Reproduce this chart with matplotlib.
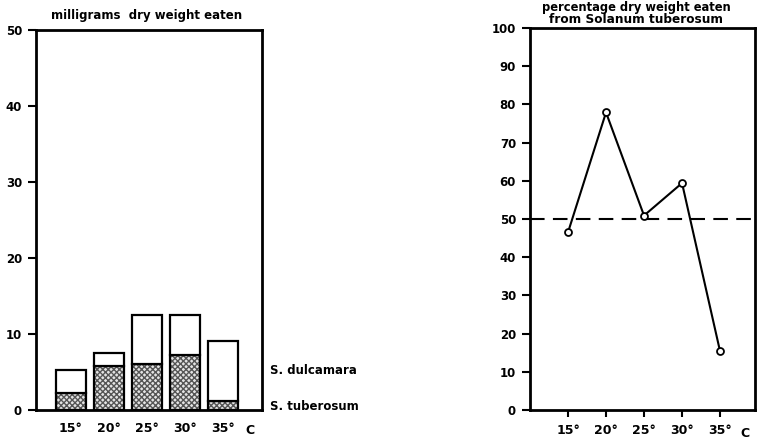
import matplotlib
matplotlib.use("Agg")
import matplotlib.pyplot as plt
import numpy as np

# ---- data ----
temps = [15, 20, 25, 30, 35]
temp_labels = ['15°', '20°', '25°', '30°', '35°']
tuberosum_mg = [2.3, 5.8, 6.1, 7.3, 1.2]
total_mg = [5.3, 7.5, 12.5, 12.5, 9.1]
pct_tuberosum = [46.5, 77.9, 50.9, 59.4, 15.4]
left_yticks = [0, 10, 20, 30, 40, 50]
right_yticks = [0, 10, 20, 30, 40, 50, 60, 70, 80, 90, 100]
ref_line = 50

plt.rcParams['font.family'] = ['DejaVu Sans']
plt.rcParams['font.weight'] = 'bold'

W, H = 757, 442
fig = plt.figure(figsize=(W / 100, H / 100), dpi=100)

def box(l, t, r, b):
    return [l / W, (H - b) / H, (r - l) / W, (b - t) / H]

# ---- left chart ----
ax1 = fig.add_axes(box(36, 30, 262, 410))
x = np.arange(len(temps))
dulc = [t - s for t, s in zip(total_mg, tuberosum_mg)]
ax1.bar(x, tuberosum_mg, width=0.79, color='#e4e4e4', edgecolor='#555555',
        hatch='xxxxxx', linewidth=0, zorder=2)
ax1.bar(x, tuberosum_mg, width=0.79, fill=False, edgecolor='black', linewidth=1.6, zorder=3)
ax1.bar(x, dulc, bottom=tuberosum_mg, width=0.79, color='white', edgecolor='black',
        linewidth=1.6, zorder=3)
ax1.set_xlim(-0.92, 5.03)
ax1.set_ylim(0, 50)
ax1.set_yticks(left_yticks)
ax1.set_xticks(x)
ax1.set_xticklabels(temp_labels, fontsize=9, fontweight='bold')
ax1.tick_params(axis='x', length=0, pad=9)
ax1.tick_params(axis='y', length=6, width=1.5, labelsize=8.5, pad=4)
for s in ax1.spines.values():
    s.set_linewidth(2)
ax1.annotate('C', xy=(x[-1], -0.063), xycoords=('data', 'axes fraction'),
             xytext=(16, 0), textcoords='offset points', ha='left', va='baseline',
             fontsize=9, fontweight='bold')
ax1.text(1.035, (370 - 410) / -380, 'S. dulcamara', transform=ax1.transAxes,
         ha='left', va='center', fontsize=8.5, fontweight='bold')
ax1.text(1.035, (407 - 410) / -380, 'S. tuberosum', transform=ax1.transAxes,
         ha='left', va='center', fontsize=8.5, fontweight='bold')
fig.text(147 / W, 1 - 15 / H, 'milligrams  dry weight eaten', ha='center', va='center',
         fontsize=8.5, fontweight='bold')

# ---- right chart ----
ax2 = fig.add_axes(box(530, 28, 755, 410))
ax2.axhline(ref_line, color='black', linewidth=1.5, dashes=(7, 4), zorder=1)
ax2.plot(temps, pct_tuberosum, color='black', linewidth=1.5, marker='o',
         markersize=5, markerfacecolor='white', markeredgecolor='black',
         markeredgewidth=1.3, zorder=3)
ax2.set_xlim(10, 39.6)
ax2.set_ylim(0, 100)
ax2.set_yticks(right_yticks)
ax2.set_xticks(temps)
ax2.set_xticklabels(temp_labels, fontsize=9, fontweight='bold')
ax2.tick_params(axis='x', length=5, width=1.5, pad=5)
ax2.tick_params(axis='y', length=6, width=1.5, labelsize=8.5, pad=4)
ax2.annotate('C', xy=(temps[-1], -0.0707), xycoords=('data', 'axes fraction'),
             xytext=(15, 0), textcoords='offset points', ha='left', va='baseline',
             fontsize=9, fontweight='bold')
for s in ax2.spines.values():
    s.set_linewidth(2)
fig.text(636 / W, 1 - 1 / H, 'percentage dry weight eaten', ha='center', va='top',
         fontsize=8.3, fontweight='bold')
fig.text(636 / W, 1 - 13 / H, 'from Solanum tuberosum', ha='center', va='top',
         fontsize=8.7, fontweight='bold')

fig.savefig('out.png', dpi=100)
